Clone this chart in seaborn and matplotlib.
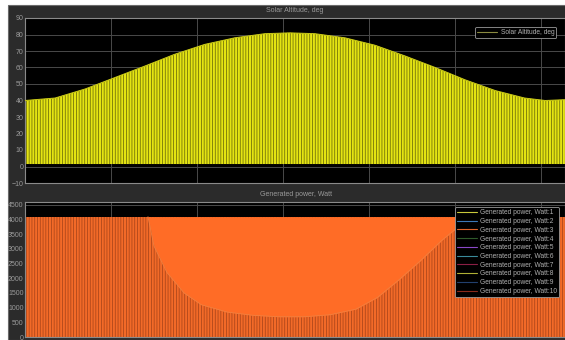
import numpy as np
import pandas as pd
import matplotlib.pyplot as plt
import seaborn as sns
from matplotlib.lines import Line2D
from matplotlib.patches import Rectangle

# Solar altitude envelope (deg), time in grid units
sun_t = [0.00, 0.35, 0.70, 1.05, 1.40, 1.74, 2.09, 2.44, 2.79, 3.08,
         3.37, 3.72, 4.07, 4.42, 4.77, 5.12, 5.47, 5.81, 6.05, 6.28]
sun_alt = [40, 41.5, 47, 54, 61, 68, 74, 78, 80.5, 81,
           80.5, 78, 73.5, 67, 60, 52.5, 46, 41.5, 40, 40.5]
sun_low = 1.5

# Generated power: flat upper level and the "solid" bowl in the middle
power_t = [0.00, 6.28]
power_top = [4100, 4100]
bowl_t = [1.43, 1.50, 1.65, 1.85, 2.05, 2.35, 2.65, 2.95, 3.25,
          3.55, 3.85, 4.10, 4.35, 4.60, 4.85, 5.10, 5.17]
bowl_low = [4100, 3100, 2200, 1500, 1100, 850, 740, 690, 690,
            760, 950, 1350, 1950, 2600, 3300, 3900, 4100]

series_names = ['Generated power, Watt:%d' % i for i in range(1, 11)]
series_colors = ['#c8c83a', '#3a78b8', '#e0642a', '#2f5a2a', '#8a48c8',
                 '#3a8a9a', '#8a1f45', '#b0b035', '#22406e', '#8a2a1a']

sun = pd.DataFrame({'t': sun_t, 'alt': sun_alt})
bowl = pd.DataFrame({'t': bowl_t, 'p': bowl_low})

sns.set_theme(style='dark')
plt.rcParams['font.family'] = ['Liberation Sans', 'DejaVu Sans']
plt.rcParams['hatch.linewidth'] = 0.55

W, H = 565, 340
fig = plt.figure(figsize=(W / 100, H / 100), dpi=100, facecolor='white')
# dark scope frame behind everything
frame = Rectangle((8 / W, 0), 1, 1 - 5 / H, transform=fig.transFigure,
                  facecolor='#2b2b2b', edgecolor='#6a6a6a', lw=0.8, zorder=-10)
fig.add_artist(frame)

grey = '#9a9a9a'
ax1 = fig.add_axes([25 / W, 1 - 183 / H, 540 / W, 165 / H])
ax2 = fig.add_axes([25 / W, 1 - 337 / H, 540 / W, 135 / H])

for ax in (ax1, ax2):
    ax.set_zorder(1)
    ax.set_facecolor('black')
    ax.set_xlim(0, 6.28)
    ax.set_xticks(range(0, 7))
    ax.grid(True, color='#4a4a4a', lw=0.7)
    ax.set_axisbelow(True)
    for s in ax.spines.values():
        s.set_color('#8a8a8a')
        s.set_linewidth(0.8)

# top panel: solar altitude
ax1.fill_between(sun_t, sun_low, sun_alt, facecolor='#e4e412', edgecolor='#6a6a0a',
                 hatch='||||||', lw=0, zorder=2)
sns.lineplot(data=sun, x='t', y='alt', ax=ax1, color='#c8c818', lw=0.7, zorder=3)
ax1.set_ylim(-10, 90)
ax1.set_yticks(range(-10, 91, 10))
leg1 = ax1.legend([Line2D([], [], color='#8a8a40', lw=0.8)], ['Solar Altitude, deg'],
                  loc='upper right', bbox_to_anchor=(0.99, 0.965), fontsize=4.8,
                  frameon=True, facecolor='black', edgecolor='#9a9a9a',
                  labelcolor='#b0b0b0', handlelength=3.0, borderpad=0.3,
                  handletextpad=0.5)
leg1.get_frame().set_linewidth(0.6)
leg1.get_frame().set_alpha(1)

# bottom panel: generated power
ax2.fill_between(power_t, 0, power_top, facecolor='#f26a28', edgecolor='#a8441a',
                 hatch='||||||', lw=0, zorder=2)
ax2.fill_between(bowl_t, bowl_low, 4100, facecolor='#ff6c26', lw=0, zorder=3)
sns.lineplot(data=bowl, x='t', y='p', ax=ax2, color='#f08040', lw=0.6, zorder=3)
ax2.set_ylim(0, 4600)
ax2.set_yticks(range(0, 4501, 500))
handles = [Line2D([], [], color=c, lw=0.8) for c in series_colors]
leg2 = ax2.legend(handles, series_names, loc='upper right', bbox_to_anchor=(0.995, 0.985),
                  fontsize=4.8, frameon=True, facecolor='black', edgecolor='#9a9a9a',
                  labelcolor='#b0b0b0', handlelength=3.0, borderpad=0.3,
                  labelspacing=0.26, handletextpad=0.5)
leg2.get_frame().set_linewidth(0.6)
leg2.get_frame().set_alpha(1)
leg2.set_zorder(5)

for ax in (ax1, ax2):
    ax.set_xticklabels([])
    ax.set_xlabel('')
    ax.set_ylabel('')
    ax.tick_params(axis='y', colors=grey, labelsize=5, length=2, pad=1, direction='in')
    ax.tick_params(axis='x', length=0)

fig.text(295 / W, 1 - 11 / H, 'Solar Altitude, deg', color=grey, fontsize=5,
         ha='center', va='center')
fig.text(296 / W, 1 - 195 / H, 'Generated power, Watt', color=grey, fontsize=5,
         ha='center', va='center')

fig.savefig('out.png', dpi=100, facecolor=fig.get_facecolor())
plt.close(fig)
